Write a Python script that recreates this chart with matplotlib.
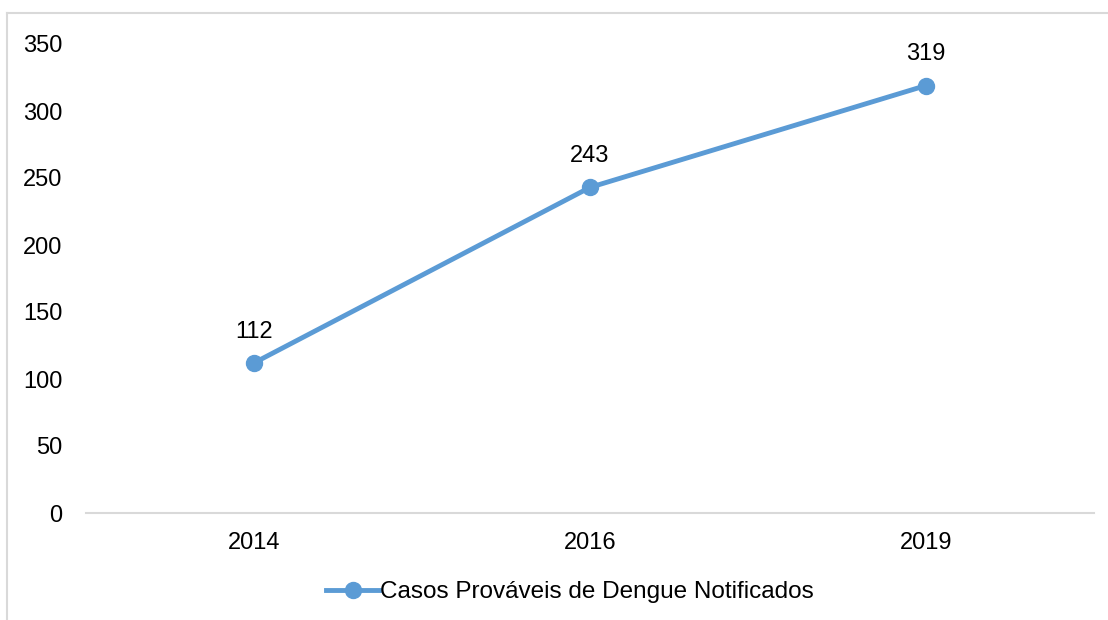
import matplotlib.pyplot as plt
from matplotlib.lines import Line2D

plt.rcParams['font.family'] = ['Liberation Sans', 'DejaVu Sans']

anos = ['2014', '2016', '2019']
casos = [112, 243, 319]
yticks = [0, 50, 100, 150, 200, 250, 300, 350]
cor = '#5B9BD5'
fs = 17

fig = plt.figure(figsize=(11.08, 6.2), dpi=100)
ax = fig.add_axes([86 / 1108, 1 - 513 / 620, (1094 - 86) / 1108, (513 - 44) / 620])

x = range(len(anos))
ax.plot(x, casos, color=cor, linewidth=3.5, marker='o', markersize=11.5,
        label='Casos Prováveis de Dengue Notificados')
for xi, v in zip(x, casos):
    ax.annotate(str(v), (xi, v), xytext=(0, 14.5), textcoords='offset points',
                ha='center', va='bottom', fontsize=fs)

ax.set_xlim(-0.5, len(anos) - 0.5)
ax.set_ylim(0, 350)
ax.set_yticks(yticks)
ax.set_xticks(list(x))
ax.set_xticklabels(anos)
ax.tick_params(axis='both', length=0, labelsize=fs)
ax.tick_params(axis='y', pad=17)
ax.tick_params(axis='x', pad=14)
for s in ['top', 'right', 'left']:
    ax.spines[s].set_visible(False)
ax.spines['bottom'].set_color('#D9D9D9')
ax.spines['bottom'].set_linewidth(1.5)

leg = ax.legend(loc='center', bbox_to_anchor=(570 / 1108, 1 - 592 / 620),
                bbox_transform=fig.transFigure, frameon=False, fontsize=17.5,
                handlelength=2.2, handletextpad=0.05)

# moldura do gráfico (Excel)
fig.add_artist(Line2D([7 / 1108, 1], [1 - 13 / 620, 1 - 13 / 620], color='#D9D9D9', linewidth=1.5,
                      transform=fig.transFigure))
fig.add_artist(Line2D([7 / 1108, 7 / 1108], [0, 1 - 13 / 620], color='#D9D9D9', linewidth=1.5,
                      transform=fig.transFigure))

fig.savefig('out.png', dpi=100)
